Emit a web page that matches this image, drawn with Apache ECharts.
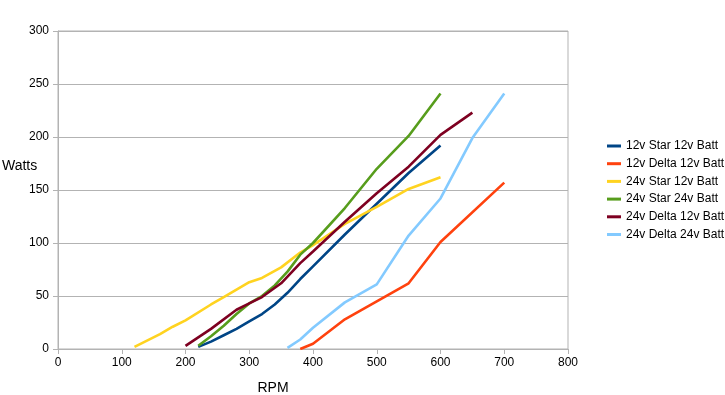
<!DOCTYPE html>
<html>
<head>
<meta charset="utf-8">
<script src="https://cdn.jsdelivr.net/npm/echarts@6/dist/echarts.min.js"></script>
<style>html,body{margin:0;padding:0;background:#fff}#c{width:725px;height:395px}</style>
</head>
<body>
<div id="c"></div>
<script>
const seriesNames = ['12v Star 12v Batt','12v Delta 12v Batt','24v Star 12v Batt','24v Star 24v Batt','24v Delta 12v Batt','24v Delta 24v Batt'];
const colors = ['#004586','#ff420e','#ffd320','#579d1c','#7e0021','#83caff'];

const rpmStar12 = [220,240,260,280,300,320,340,360,380,400,450,500,550,600];
const wattStar12 = [2,7,13,19,26,33,42,53,66,78,108,137,166,192];

const rpmDelta12 = [380,400,450,500,550,600,700];
const wattDelta12 = [0,5,28,45,62,101,157];

const rpm24Star12 = [120,160,180,200,240,260,300,320,350,380,400,450,500,550,600];
const watt24Star12 = [2,14,21,27,42,49,63,67,77,91,98,118,134,151,162];

const rpm24Star24 = [220,240,260,280,300,320,340,360,380,400,450,500,550,600];
const watt24Star24 = [3,12,22,33,43,50,60,73,89,100,133,170,201,241];

const rpm24Delta12 = [200,240,280,300,320,350,380,400,450,500,550,600,650];
const watt24Delta12 = [3,19,37,43,49,62,81,92,120,147,172,202,223];

const rpm24Delta24 = [360,380,400,450,500,550,600,650,700];
const watt24Delta24 = [1,9,20,44,61,107,142,199,241];

const rpmSets = [rpmStar12, rpmDelta12, rpm24Star12, rpm24Star24, rpm24Delta12, rpm24Delta24];
const wattSets = [wattStar12, wattDelta12, watt24Star12, watt24Star24, watt24Delta12, watt24Delta24];

const font = 'Liberation Sans, Arial, sans-serif';
const chart = echarts.init(document.getElementById('c'));
chart.setOption({
  animation: false,
  color: colors,
  grid: {left: 58, right: 157, top: 31, bottom: 46, containLabel: false, outerBoundsMode: 'none',
         show: true, borderColor: '#b3b3b3', borderWidth: 1},
  legend: {
    orient: 'vertical', left: 607, top: 139, padding: 0,
    itemWidth: 14, itemHeight: 3, itemGap: 3.7, icon: 'rect',
    textStyle: {fontFamily: font, fontSize: 12, color: '#000', lineHeight: 14},
    data: seriesNames
  },
  graphic: [{
    type: 'text', left: 2, top: 159,
    style: {text: 'Watts', fontFamily: font, fontSize: 14, fill: '#000'}
  }],
  xAxis: {
    type: 'value', min: 0, max: 800, interval: 100,
    name: 'RPM', nameLocation: 'middle', nameGap: 32,
    nameTextStyle: {fontFamily: font, fontSize: 14, color: '#000', padding: [0, 80, 0, 0]},
    axisLine: {show: true, lineStyle: {color: '#b3b3b3'}},
    axisTick: {show: true, length: 5, lineStyle: {color: '#b3b3b3'}},
    axisLabel: {fontFamily: font, fontSize: 12, color: '#000', margin: 8},
    splitLine: {show: false}
  },
  yAxis: {
    type: 'value', min: 0, max: 300, interval: 50,
    axisLine: {show: true, lineStyle: {color: '#b3b3b3'}},
    axisTick: {show: true, length: 5, lineStyle: {color: '#b3b3b3'}},
    axisLabel: {fontFamily: font, fontSize: 12, color: '#000', margin: 9},
    splitLine: {show: true, lineStyle: {color: '#b3b3b3', width: 1}}
  },
  series: seriesNames.map((n, i) => ({
    name: n, type: 'line', showSymbol: false, symbol: 'none',
    lineStyle: {width: 2.6, color: colors[i]},
    itemStyle: {color: colors[i]},
    data: rpmSets[i].map((r, j) => [r, wattSets[i][j]])
  }))
});
</script>
</body>
</html>
